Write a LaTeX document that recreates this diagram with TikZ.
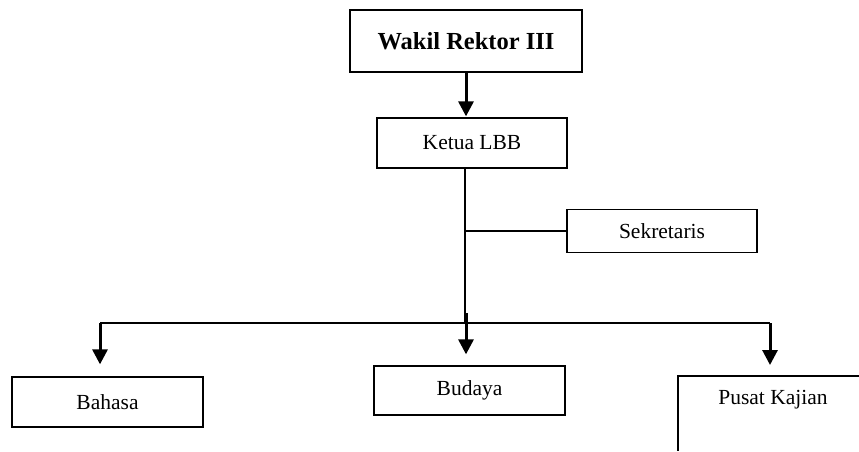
\documentclass[tikz,border=0pt]{standalone}
\usepackage{fontspec}
\setmainfont{Liberation Serif}
\usetikzlibrary{arrows.meta}
\tikzset{
  unit/.style={draw,line width=1.3pt,inner sep=0pt,font=\fontsize{21.5}{25}\selectfont},
  link/.style={line width=1.3pt},
  down/.style={line width=3pt,-{Triangle[length=15pt,width=15pt]}}
}

\begin{document}
\begin{tikzpicture}[x=1pt,y=-1pt]
\useasboundingbox (0,0) rectangle (859,451);
\node[unit,minimum width=232pt,minimum height=62pt,font=\fontsize{24.5}{28}\selectfont\bfseries] (WR) at (466,41) {Wakil Rektor III};
\node[unit,minimum width=190pt,minimum height=50pt] (KL) at (472,143) {Ketua LBB};
\node[unit,minimum width=190pt,minimum height=43pt] (SK) at (662,231) {Sekretaris};
\node[unit,minimum width=191pt,minimum height=50pt] (BH) at (107.5,402) {Bahasa};
\node[unit,minimum width=191pt,minimum height=49pt] (BD) at (469.5,390.5) {Budaya};
\node[font=\fontsize{21.5}{25}\selectfont] (PK) at (773,400) {Pusat Kajian};
\coordinate (spine) at (465,323);
\coordinate (busL) at (100,323);
\coordinate (busR) at (770,323);
\coordinate (BDtop) at (466,313);
\coordinate (PKtop) at (770,376);
% open box of the last unit
\draw[link] (859,376) -- (678,376) -- (678,451);
\draw[down,shorten >=1pt] (WR.south) -- (WR.south |- KL.north);
\draw[link] (KL.south -| spine) -- (spine);
\draw[link] (SK.west -| spine) -- (SK.west);
\draw[link] (busL) -- (busR);
\draw[down,shorten >=12pt] (busL) -- (busL |- BH.north);
\draw[down,shorten >=11pt] (BDtop) -- (BDtop |- BD.north);
\draw[down,shorten >=11pt] (busR) -- (PKtop);
\end{tikzpicture}
\end{document}
